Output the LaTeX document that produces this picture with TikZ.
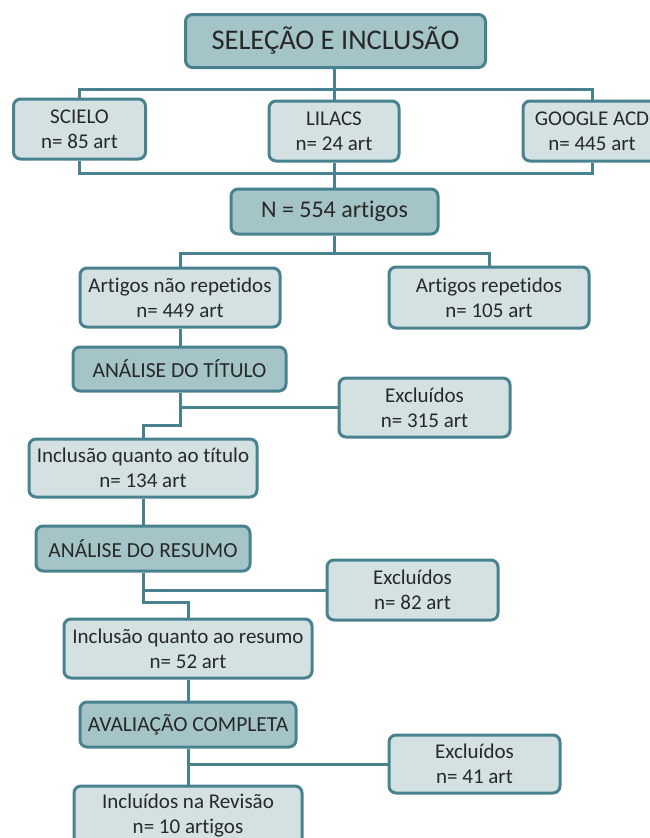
\documentclass[tikz,border=0pt]{standalone}
\usepackage{fontspec}
\setmainfont{Carlito}[Ligatures=NoCommon]
\usepackage{tikz}
\usetikzlibrary{positioning}
\usepackage{xcolor}
\definecolor{FlowTeal}{RGB}{72,130,143}
\definecolor{FlowDark}{RGB}{164,196,200}
\definecolor{FlowLight}{RGB}{211,225,227}
\definecolor{FlowText}{RGB}{40,40,40}

\begin{document}
\begin{tikzpicture}[x=1pt,y=-1pt,
box/.style={rectangle,rounded corners=7pt,draw=FlowTeal,line width=3pt,fill=FlowLight,
text=FlowText,align=center,inner sep=0pt,font=\fontsize{21}{25}\selectfont},
head/.style={box,fill=FlowDark,font=\fontsize{21.5}{25}\selectfont},
line/.style={draw=FlowTeal,line width=3pt}
]
\useasboundingbox (0,0) rectangle (650,838);
\clip (0,0) rectangle (650,838);
\node[head,minimum width=300pt,minimum height=53pt,font=\fontsize{28.5}{32}\selectfont] (sel) at (335.5,41) {SELEÇÃO E INCLUSÃO};
\node[box,minimum width=132pt,minimum height=60pt] (scielo) at (79.5,129) {SCIELO\\n= 85 art};
\node[box,minimum width=130pt,minimum height=60pt] (lilacs) at (334,131) {LILACS\\n= 24 art};
\node[box,minimum width=138pt,minimum height=60pt] (google) at (592,131) {GOOGLE ACD\\n= 445 art};
\node[head,minimum width=207pt,minimum height=45pt,font=\fontsize{24}{28}\selectfont] (total) at (334.5,211.5) {N = 554 artigos};
\node[box,minimum width=200pt,minimum height=59pt] (naorep) at (180,297.5) {Artigos não repetidos\\n= 449 art};
\node[box,minimum width=200pt,minimum height=61pt] (rep) at (489,297.5) {Artigos repetidos\\n= 105 art};
\node[head,minimum width=213pt,minimum height=44pt] (atitulo) at (179.5,369) {ANÁLISE DO TÍTULO};
\node[box,minimum width=171pt,minimum height=59pt] (exc1) at (424.5,407.5) {Excluídos\\n= 315 art};
\node[box,minimum width=228pt,minimum height=58pt] (inctitulo) at (143,468) {Inclusão quanto ao título\\n= 134 art};
\node[head,minimum width=214pt,minimum height=45pt] (aresumo) at (143,548.5) {ANÁLISE DO RESUMO};
\node[box,minimum width=171pt,minimum height=60pt] (exc2) at (412.5,590) {Excluídos\\n= 82 art};
\node[box,minimum width=248pt,minimum height=59pt] (incresumo) at (188,648.5) {Inclusão quanto ao resumo\\n= 52 art};
\node[head,minimum width=216pt,minimum height=45pt] (aval) at (188,724.5) {AVALIAÇÃO COMPLETA};
\node[box,minimum width=171pt,minimum height=58pt] (exc3) at (474.5,764) {Excluídos\\n= 41 art};
\node[box,minimum width=228pt,minimum height=60pt] (incl) at (188,816) {Incluídos na Revisão\\n= 10 artigos};
% bars and elbows
\coordinate (tbar) at (0,89); \coordinate (bbar) at (0,173.5); \coordinate (split) at (0,253);
\coordinate (kink1) at (0,425); \coordinate (kink2) at (0,602);
\draw[line] (lilacs.north) -- (lilacs.north |- sel.south);
\draw[line] (scielo.north) |- (google.north |- tbar) -- (google.north);
\draw[line] (scielo.south) |- (google.south |- bbar) -- (google.south);
\draw[line] (lilacs.south) -- (lilacs.south |- total.north);
\draw[line] (total.south) -- (total.south |- split);
\draw[line] (naorep.north) |- (rep.north |- split) -- (rep.north);
\draw[line] (naorep.south) -- (naorep.south |- atitulo.north);
\draw[line] (naorep.south |- atitulo.south) |- (kink1 -| inctitulo.north) -- (inctitulo.north);
\draw[line] (exc1.west) -- (exc1.west -| naorep.south);
\draw[line] (inctitulo.south) -- (aresumo.north);
\draw[line] (aresumo.south) |- (kink2 -| incresumo.north) -- (incresumo.north);
\draw[line] (exc2.west) -- (exc2.west -| aresumo.south);
\draw[line] (incresumo.south) -- (aval.north);
\draw[line] (aval.south) -- (incl.north);
\draw[line] (exc3.west) -- (exc3.west -| aval.south);
\end{tikzpicture}
\end{document}
